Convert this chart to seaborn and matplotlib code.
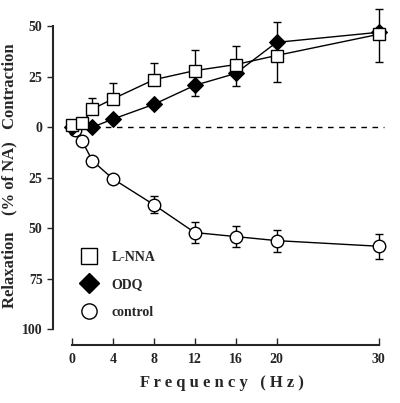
import numpy as np
import pandas as pd
import matplotlib
matplotlib.use("Agg")
import matplotlib.pyplot as plt
import seaborn as sns
from matplotlib.lines import Line2D

# data (relaxation stored as negative values)
freq_lnna = [0, 1, 2, 4, 8, 12, 16, 20, 30]
lnna = [1, 2, 9, 14, 23.5, 28, 31, 35.5, 46]
lnna_lo = [0, 0, 0, 0, 0, 0, 0, 13, 13.5]
lnna_hi = [0, 0, 5.4, 8, 8.5, 10, 9.4, 0, 12.6]

freq_odq = [0, 2, 4, 8, 12, 16, 20, 30]
odq = [0, 0, 4, 11.3, 20.7, 26.6, 42, 47]
odq_lo = [0, 0, 0, 0, 5.4, 6.4, 0, 0]
odq_hi = [0, 0, 0, 0, 0, 0, 10, 0]

freq_ctrl = [0.3, 1, 2, 4, 8, 12, 16, 20, 30]
ctrl = [-1.5, -7, -16.7, -25.6, -38.4, -52.2, -54.2, -56.2, -59]
ctrl_err = [0, 0, 0, 0, 4.2, 5, 5.4, 5.4, 6.3]

xticks = [0, 4, 8, 12, 16, 20, 30]
yticks = [50, 25, 0, -25, -50, -75, -100]
ytick_labels = ["50", "25", "0", "25", "50", "75", "100"]

sns.set_style("ticks")
plt.rcParams["font.family"] = ["Liberation Serif", "DejaVu Serif"]
plt.rcParams["font.weight"] = "bold"

fig = plt.figure(figsize=(4, 4.03), dpi=100)
ax = fig.add_axes([0.1325, 0.144, 0.8425, 0.841])

# error bars first so markers sit on top
ax.errorbar(freq_lnna, lnna, yerr=[lnna_lo, lnna_hi], fmt="none", ecolor="black",
            elinewidth=1, capsize=3, capthick=1, zorder=1)
ax.errorbar(freq_odq, odq, yerr=[odq_lo, odq_hi], fmt="none", ecolor="black",
            elinewidth=1, capsize=3, capthick=1, zorder=1)
ax.errorbar(freq_ctrl, ctrl, yerr=ctrl_err, fmt="none", ecolor="black",
            elinewidth=1, capsize=3, capthick=1, zorder=1)

ax.hlines(0, 0, 30.5, colors="black", linestyles=(0, (4, 4)), linewidth=1, zorder=0)

sns.lineplot(x=freq_ctrl, y=ctrl, ax=ax, color="black", lw=1, marker="o", ms=9,
             markerfacecolor="white", markeredgecolor="black", markeredgewidth=1, zorder=3)
sns.lineplot(x=freq_odq, y=odq, ax=ax, color="black", lw=1, marker="D", ms=8,
             markerfacecolor="black", markeredgecolor="black", zorder=3)
sns.lineplot(x=freq_lnna, y=lnna, ax=ax, color="black", lw=1, marker="s", ms=8,
             markerfacecolor="white", markeredgecolor="black", markeredgewidth=1, zorder=4)

ax.set_xlim(-1.86, 31.1)
ax.set_ylim(-107.9, 60)
ax.set_xticks(xticks)
ax.set_yticks(yticks)
ax.set_yticklabels(ytick_labels)
ax.tick_params(axis="x", direction="in", length=5, width=1, labelsize=10, pad=6)
ax.tick_params(axis="y", direction="out", length=4, width=1, labelsize=10)
for lab in ax.get_xticklabels() + ax.get_yticklabels():
    lab.set_fontweight("bold")

sns.despine(ax=ax)
ax.spines["left"].set_bounds(-100, 50)
ax.spines["bottom"].set_bounds(0, 30)
ax.spines["left"].set_linewidth(1.5)
ax.spines["bottom"].set_linewidth(1.5)

ax.set_xlabel("F r e q u e n c y   ( H z )", fontsize=12, fontweight="bold", labelpad=6)
ax.set_ylabel("Relaxation    (% of NA)   Contraction", fontsize=12, fontweight="bold", labelpad=3)

handles = [
    Line2D([], [], ls="none", marker="s", ms=11, mfc="white", mec="black", label="L-NNA"),
    Line2D([], [], ls="none", marker="D", ms=10, mfc="black", mec="black", label="ODQ"),
    Line2D([], [], ls="none", marker="o", ms=11, mfc="white", mec="black", label="control"),
]
ax.legend(handles=handles, loc="lower left", bbox_to_anchor=(0.03, 0.04), frameon=False,
          prop={"size": 10, "weight": "bold"}, handletextpad=0.6, labelspacing=1.05)

fig.savefig("out.png", dpi=100)
